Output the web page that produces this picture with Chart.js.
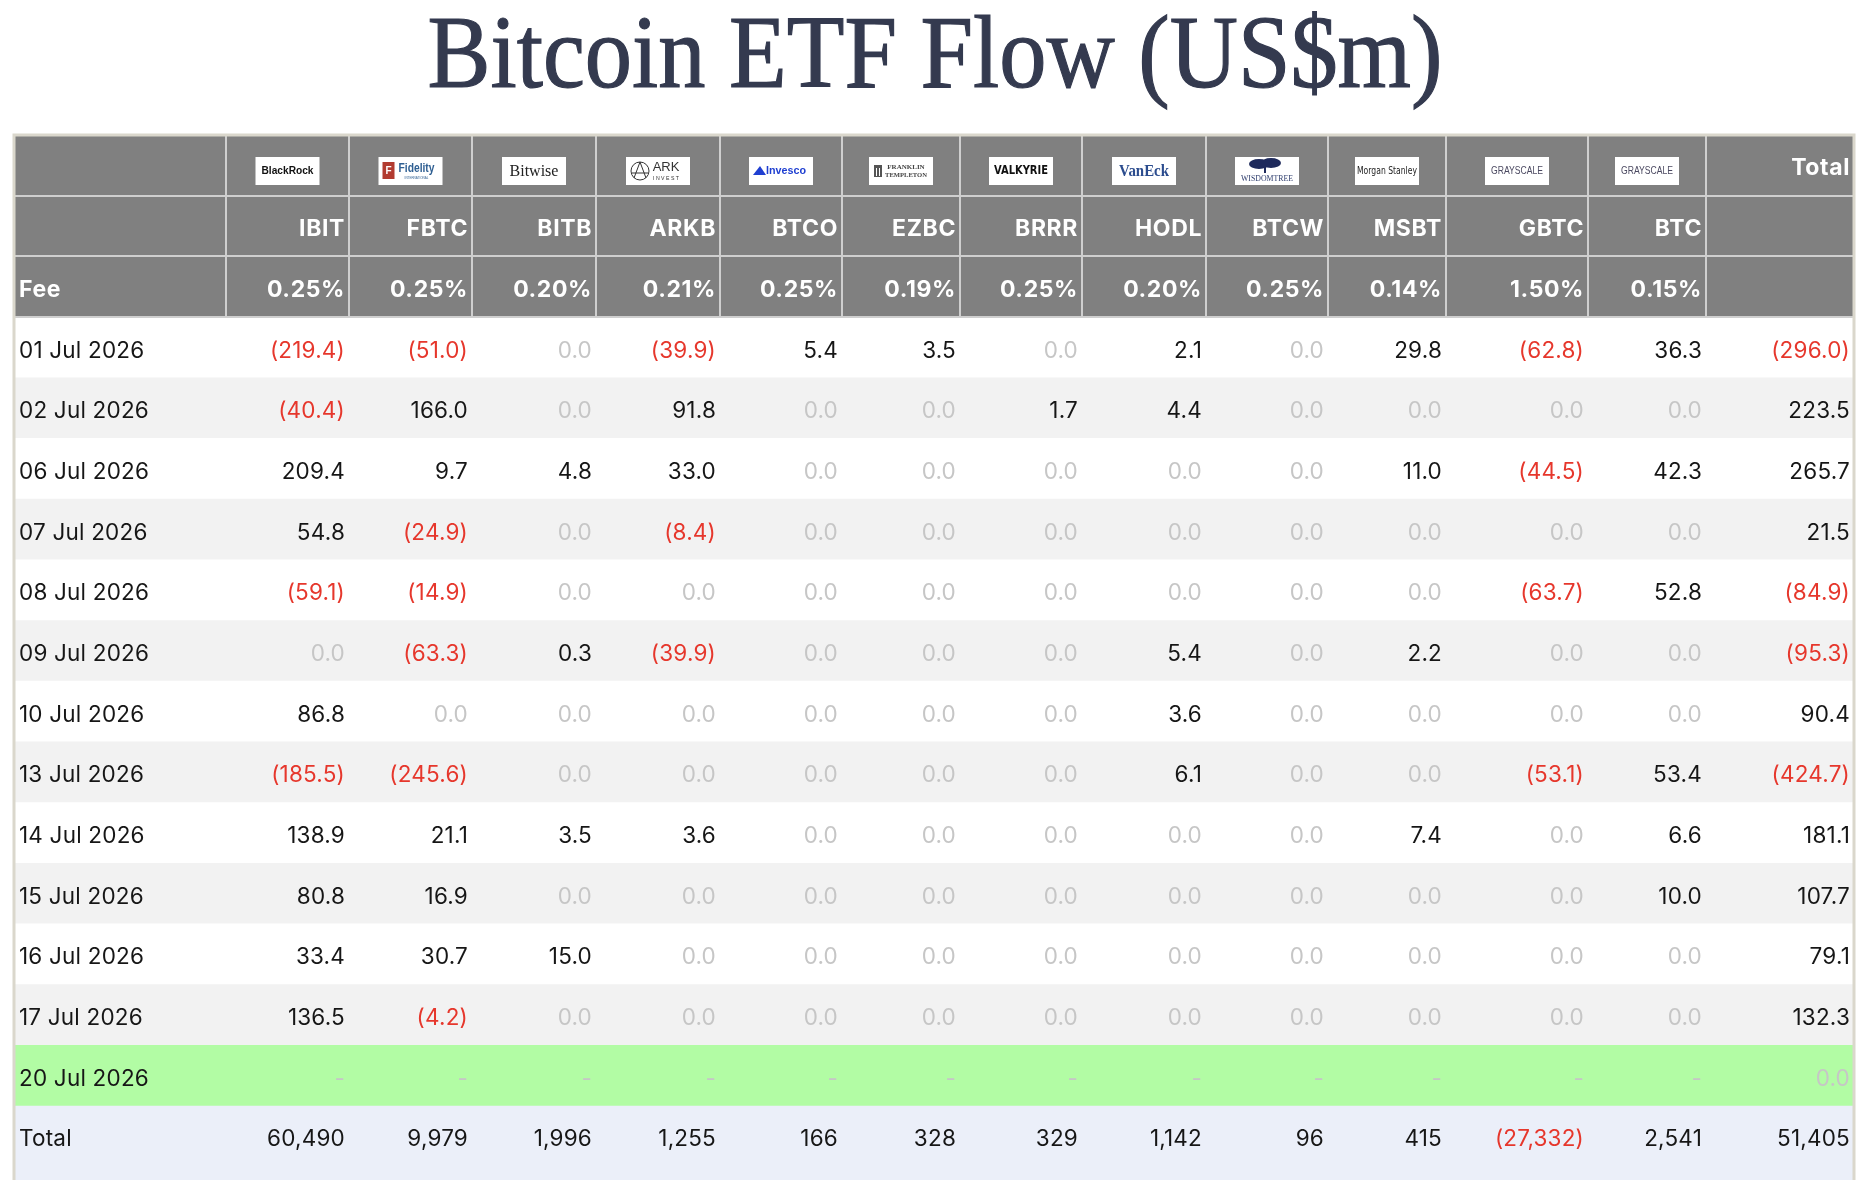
<!DOCTYPE html>
<html>
<head>
<meta charset="utf-8">
<title>Bitcoin ETF Flow (US$m)</title>
<script src="https://cdn.jsdelivr.net/npm/chart.js@4.4.1/dist/chart.umd.min.js"></script>
<style>
  html, body { margin: 0; padding: 0; background: #fff; }
  #wrap { width: 1868px; height: 1180px; }
</style>
</head>
<body>
<div id="wrap"><canvas id="flows" width="1868" height="1180"></canvas></div>
<script>
// ---- table data (US$m) ----
const dates = ['01 Jul 2026', '02 Jul 2026', '06 Jul 2026', '07 Jul 2026', '08 Jul 2026', '09 Jul 2026',
  '10 Jul 2026', '13 Jul 2026', '14 Jul 2026', '15 Jul 2026', '16 Jul 2026', '17 Jul 2026', '20 Jul 2026'];
const tickers = ['IBIT', 'FBTC', 'BITB', 'ARKB', 'BTCO', 'EZBC', 'BRRR', 'HODL', 'BTCW', 'MSBT', 'GBTC', 'BTC'];
const issuers = ['BlackRock', 'Fidelity', 'Bitwise', 'ARK', 'Invesco', 'Franklin', 'Valkyrie', 'VanEck',
  'WisdomTree', 'Morgan Stanley', 'Grayscale', 'Grayscale'];
const fees = ['0.25%', '0.25%', '0.20%', '0.21%', '0.25%', '0.19%', '0.25%', '0.20%', '0.25%', '0.14%', '1.50%', '0.15%'];

// daily flow per fund, null = not reported yet
const ibit = [-219.4, -40.4, 209.4, 54.8, -59.1, 0, 86.8, -185.5, 138.9, 80.8, 33.4, 136.5, null];
const fbtc = [-51.0, 166.0, 9.7, -24.9, -14.9, -63.3, 0, -245.6, 21.1, 16.9, 30.7, -4.2, null];
const bitb = [0, 0, 4.8, 0, 0, 0.3, 0, 0, 3.5, 0, 15.0, 0, null];
const arkb = [-39.9, 91.8, 33.0, -8.4, 0, -39.9, 0, 0, 3.6, 0, 0, 0, null];
const btco = [5.4, 0, 0, 0, 0, 0, 0, 0, 0, 0, 0, 0, null];
const ezbc = [3.5, 0, 0, 0, 0, 0, 0, 0, 0, 0, 0, 0, null];
const brrr = [0, 1.7, 0, 0, 0, 0, 0, 0, 0, 0, 0, 0, null];
const hodl = [2.1, 4.4, 0, 0, 0, 5.4, 3.6, 6.1, 0, 0, 0, 0, null];
const btcw = [0, 0, 0, 0, 0, 0, 0, 0, 0, 0, 0, 0, null];
const msbt = [29.8, 0, 11.0, 0, 0, 2.2, 0, 0, 7.4, 0, 0, 0, null];
const gbtc = [-62.8, 0, -44.5, 0, -63.7, 0, 0, -53.1, 0, 0, 0, 0, null];
const btc = [36.3, 0, 42.3, 0, 52.8, 0, 0, 53.4, 6.6, 10.0, 0, 0, null];
const dailyTotal = [-296.0, 223.5, 265.7, 21.5, -84.9, -95.3, 90.4, -424.7, 181.1, 107.7, 79.1, 132.3, 0];

// cumulative flow since launch
const fundTotals = [60490, 9979, 1996, 1255, 166, 328, 329, 1142, 96, 415, -27332, 2541];
const grandTotal = 51405;

const fundFlows = [ibit, fbtc, bitb, arkb, btco, ezbc, brrr, hodl, btcw, msbt, gbtc, btc];

// ---- layout (px units on the x scale) ----
const colWidths = [212, 123, 123, 124, 124, 122, 118, 122, 124, 122, 118, 142, 118, 148];
const colEdges = colWidths.reduce((a, w) => { a.push(a[a.length - 1] + w); return a; }, [0]);
const tableWidth = colEdges[colEdges.length - 1];
const headerRows = 3;
const rowCount = headerRows + dates.length + 1;
const visibleRows = 17.22;   // last (total) row runs off the bottom of the page

const C = {
  header: '#808080', headerLine: '#cfcfcf', frame: '#dad7cc',
  white: '#ffffff', stripe: '#f2f2f2', today: '#b2fca4', total: '#ebeff9',
  text: '#161616', neg: '#e6372c', zero: '#c6c6c6', title: '#343a4f'
};
const FONT = 'Inter, "Noto Sans", sans-serif';

function rowColor(r) {
  if (r < headerRows) return C.header;
  if (r === rowCount - 1) return C.total;
  const d = r - headerRows;
  if (d === dates.length - 1) return C.today;
  return d % 2 === 0 ? C.white : C.stripe;
}

function fmtDaily(v) {
  if (v === null) return { s: '-', c: C.zero };
  if (v === 0) return { s: '0.0', c: C.zero };
  if (v < 0) return { s: '(' + Math.abs(v).toFixed(1) + ')', c: C.neg };
  return { s: v.toFixed(1), c: C.text };
}

function fmtTotal(v) {
  const s = Math.abs(v).toLocaleString('en-US');
  return v < 0 ? { s: '(' + s + ')', c: C.neg } : { s: s, c: C.text };
}

// small stand-ins for the issuer logos
function drawLogo(ctx, name, cx, cy) {
  ctx.save();
  ctx.fillStyle = '#fff';
  ctx.fillRect(cx - 32, cy - 14, 64, 28);
  ctx.textAlign = 'center';
  ctx.textBaseline = 'middle';
  switch (name) {
    case 'BlackRock':
      ctx.fillStyle = '#111';
      ctx.font = 'bold 11px "Liberation Sans", sans-serif';
      ctx.fillText('BlackRock', cx, cy, 52);
      break;
    case 'Fidelity':
      ctx.fillStyle = '#b23b30';
      ctx.fillRect(cx - 28, cy - 9, 12, 17);
      ctx.fillStyle = '#fff';
      ctx.font = 'bold 10px "Liberation Sans", sans-serif';
      ctx.fillText('F', cx - 22, cy);
      ctx.fillStyle = '#2f5f92';
      ctx.font = 'bold 12px "Liberation Sans Narrow", "Liberation Sans", sans-serif';
      ctx.fillText('Fidelity', cx + 6, cy - 2, 36);
      ctx.font = '3px "Liberation Sans", sans-serif';
      ctx.fillText('INTERNATIONAL', cx + 6, cy + 7, 30);
      break;
    case 'Bitwise':
      ctx.fillStyle = '#222';
      ctx.font = '16px "Liberation Serif", serif';
      ctx.fillText('Bitwise', cx, cy + 1, 50);
      break;
    case 'ARK':
      ctx.strokeStyle = '#333';
      ctx.lineWidth = 1;
      ctx.beginPath();
      ctx.arc(cx - 18, cy, 9, 0, Math.PI * 2);
      ctx.moveTo(cx - 18, cy - 9); ctx.lineTo(cx - 24, cy + 7);
      ctx.moveTo(cx - 18, cy - 9); ctx.lineTo(cx - 12, cy + 7);
      ctx.moveTo(cx - 26, cy + 2); ctx.lineTo(cx - 10, cy + 2);
      ctx.stroke();
      ctx.fillStyle = '#333';
      ctx.font = '13px "Liberation Sans", sans-serif';
      ctx.fillText('ARK', cx + 8, cy - 4);
      ctx.font = '6px "Liberation Sans", sans-serif';
      ctx.fillText('I N V E S T', cx + 8, cy + 7, 26);
      break;
    case 'Invesco':
      ctx.fillStyle = '#1f3fd1';
      ctx.beginPath();
      ctx.moveTo(cx - 28, cy + 4); ctx.lineTo(cx - 21, cy - 5); ctx.lineTo(cx - 15, cy + 4);
      ctx.closePath(); ctx.fill();
      ctx.font = 'bold 11px "Liberation Sans", sans-serif';
      ctx.fillText('Invesco', cx + 5, cy, 40);
      break;
    case 'Franklin':
      ctx.fillStyle = '#555';
      ctx.fillRect(cx - 27, cy - 6, 8, 12);
      ctx.fillStyle = '#fff';
      ctx.fillRect(cx - 25, cy - 3, 1, 8); ctx.fillRect(cx - 22, cy - 3, 1, 8);
      ctx.fillStyle = '#444';
      ctx.font = 'bold 7px "Liberation Serif", serif';
      ctx.fillText('FRANKLIN', cx + 5, cy - 4, 38);
      ctx.fillText('TEMPLETON', cx + 5, cy + 4, 42);
      break;
    case 'Valkyrie':
      ctx.fillStyle = '#111';
      ctx.font = 'bold 13px "Liberation Sans Narrow", "DejaVu Sans Condensed", sans-serif';
      ctx.fillText('VALKYRIE', cx, cy, 54);
      break;
    case 'VanEck':
      ctx.fillStyle = '#2b4c8e';
      ctx.font = 'bold 16px "Liberation Serif", serif';
      ctx.fillText('VanEck', cx, cy + 1, 50);
      break;
    case 'WisdomTree':
      ctx.fillStyle = '#1e2a5c';
      ctx.beginPath();
      ctx.ellipse(cx - 8, cy - 7, 10, 5, 0, 0, Math.PI * 2);
      ctx.ellipse(cx + 4, cy - 8, 10, 5, 0, 0, Math.PI * 2);
      ctx.fill();
      ctx.fillRect(cx - 3, cy - 4, 2, 6);
      ctx.fillStyle = '#2b3a6b';
      ctx.font = '8px "Liberation Serif", serif';
      ctx.fillText('WISDOMTREE', cx, cy + 8, 52);
      break;
    case 'Morgan Stanley':
      ctx.fillStyle = '#222';
      ctx.font = '10px "Liberation Sans Narrow", "DejaVu Sans Condensed", sans-serif';
      ctx.fillText('Morgan Stanley', cx, cy, 60);
      break;
    case 'Grayscale':
      ctx.fillStyle = '#4b4961';
      ctx.font = '10px "Liberation Sans Narrow", "Liberation Sans", sans-serif';
      ctx.fillText('GRAYSCALE', cx, cy, 52);
      break;
  }
  ctx.restore();
}

const tablePlugin = {
  id: 'tableText',
  beforeDatasetsDraw(chart) {
    // the total row continues below the page edge
    const { ctx, chartArea, scales: { x, y } } = chart;
    const t = y.getPixelForValue(rowCount - 1);
    ctx.save();
    ctx.fillStyle = C.total;
    ctx.fillRect(x.getPixelForValue(0), t, x.getPixelForValue(tableWidth) - x.getPixelForValue(0), chartArea.bottom - t);
    ctx.restore();
  },
  afterDatasetsDraw(chart) {
    const { ctx, scales: { x, y } } = chart;
    const left = x.getPixelForValue(0);
    const right = x.getPixelForValue(tableWidth);
    const top = y.getPixelForValue(0);
    const rowTop = r => y.getPixelForValue(r);
    const colL = c => x.getPixelForValue(colEdges[c]);
    const colR = c => x.getPixelForValue(colEdges[c + 1]);
    const base = r => rowTop(r) + 40.5;
    const lastCol = colWidths.length - 1;

    ctx.save();

    // header grid
    ctx.strokeStyle = C.headerLine;
    ctx.lineWidth = 2;
    ctx.beginPath();
    for (let c = 1; c < lastCol + 1; c++) {
      const px = Math.round(colL(c));
      ctx.moveTo(px, top); ctx.lineTo(px, rowTop(headerRows));
    }
    for (let r = 1; r <= headerRows; r++) {
      const py = Math.round(rowTop(r));
      ctx.moveTo(left, py); ctx.lineTo(right, py);
    }
    ctx.stroke();

    // outer frame
    ctx.strokeStyle = C.frame;
    ctx.lineWidth = 3;
    ctx.beginPath();
    ctx.moveTo(left, chart.height); ctx.lineTo(left, top);
    ctx.lineTo(right, top); ctx.lineTo(right, chart.height);
    ctx.stroke();

    // header text
    ctx.fillStyle = '#fff';
    ctx.font = 'bold 23px ' + FONT;
    ctx.letterSpacing = '0.6px';
    ctx.textAlign = 'right';
    ctx.textBaseline = 'alphabetic';
    ctx.fillText('Total', colR(lastCol) - 4, base(0) - 1);
    tickers.forEach((t, i) => {
      ctx.fillText(t, colR(i + 1) - 4, base(1));
      ctx.fillText(fees[i], colR(i + 1) - 4, base(2));
    });
    ctx.textAlign = 'left';
    ctx.fillText('Fee', left + 5, base(2));
    ctx.letterSpacing = '0px';

    issuers.forEach((name, i) => {
      const cx = (colL(i + 1) + colR(i + 1)) / 2;
      drawLogo(ctx, name, cx, rowTop(0) + 36);
    });

    // daily rows
    ctx.font = '22.5px ' + FONT;
    ctx.letterSpacing = '0.2px';
    dates.forEach((d, di) => {
      const r = headerRows + di;
      ctx.textAlign = 'left';
      ctx.fillStyle = C.text;
      ctx.fillText(d, left + 5, base(r));
      ctx.textAlign = 'right';
      fundFlows.forEach((series, fi) => {
        const f = fmtDaily(series[di]);
        ctx.fillStyle = f.c;
        ctx.fillText(f.s, colR(fi + 1) - 4, base(r));
      });
      const t = fmtDaily(dailyTotal[di]);
      ctx.fillStyle = di === dates.length - 1 ? C.zero : t.c;
      ctx.fillText(t.s, colR(lastCol) - 4, base(r));
    });

    // cumulative total row
    const tr = rowCount - 1;
    ctx.textAlign = 'left';
    ctx.fillStyle = C.text;
    ctx.fillText('Total', left + 5, base(tr));
    ctx.textAlign = 'right';
    fundTotals.forEach((v, fi) => {
      const f = fmtTotal(v);
      ctx.fillStyle = f.c;
      ctx.fillText(f.s, colR(fi + 1) - 4, base(tr));
    });
    const g = fmtTotal(grandTotal);
    ctx.fillStyle = g.c;
    ctx.fillText(g.s, colR(lastCol) - 4, base(tr));

    ctx.restore();
  },
  afterDraw(chart) {
    const { ctx } = chart;
    ctx.save();
    ctx.fillStyle = C.title;
    ctx.strokeStyle = C.title;
    ctx.lineWidth = 1.2;
    ctx.font = '104px "Liberation Serif", "Times New Roman", serif';
    ctx.textAlign = 'center';
    ctx.textBaseline = 'alphabetic';
    ctx.fillText('Bitcoin ETF Flow (US$m)', 935, 87, 1015);
    ctx.strokeText('Bitcoin ETF Flow (US$m)', 935, 87, 1015);
    ctx.restore();
  }
};

// one floating bar per table row paints the row background
const rowIndex = Array.from({ length: rowCount }, (_, i) => i);
const rowBars = rowIndex.map(r => ({ x: [0, tableWidth], y: r + 0.5 }));

const hiddenAxis = {
  type: 'linear', display: false, offset: false, grace: 0, bounds: 'data',
  grid: { display: false, offset: false }, ticks: { display: false }
};

new Chart(document.getElementById('flows'), {
  type: 'bar',
  data: {
    datasets: [{
      label: 'rows',
      data: rowBars,
      backgroundColor: rowIndex.map(rowColor),
      borderWidth: 0,
      barPercentage: 1,
      categoryPercentage: 1
    }]
  },
  options: {
    indexAxis: 'y',
    responsive: false,
    devicePixelRatio: 1,
    animation: false,
    layout: { padding: { left: 14, right: 14, top: 135, bottom: 0 } },
    scales: {
      x: Object.assign({}, hiddenAxis, { min: 0, max: tableWidth }),
      y: Object.assign({}, hiddenAxis, { min: 0, max: visibleRows, reverse: true })
    },
    plugins: { legend: { display: false }, tooltip: { enabled: false }, title: { display: false } }
  },
  plugins: [tablePlugin]
});
</script>
</body>
</html>
